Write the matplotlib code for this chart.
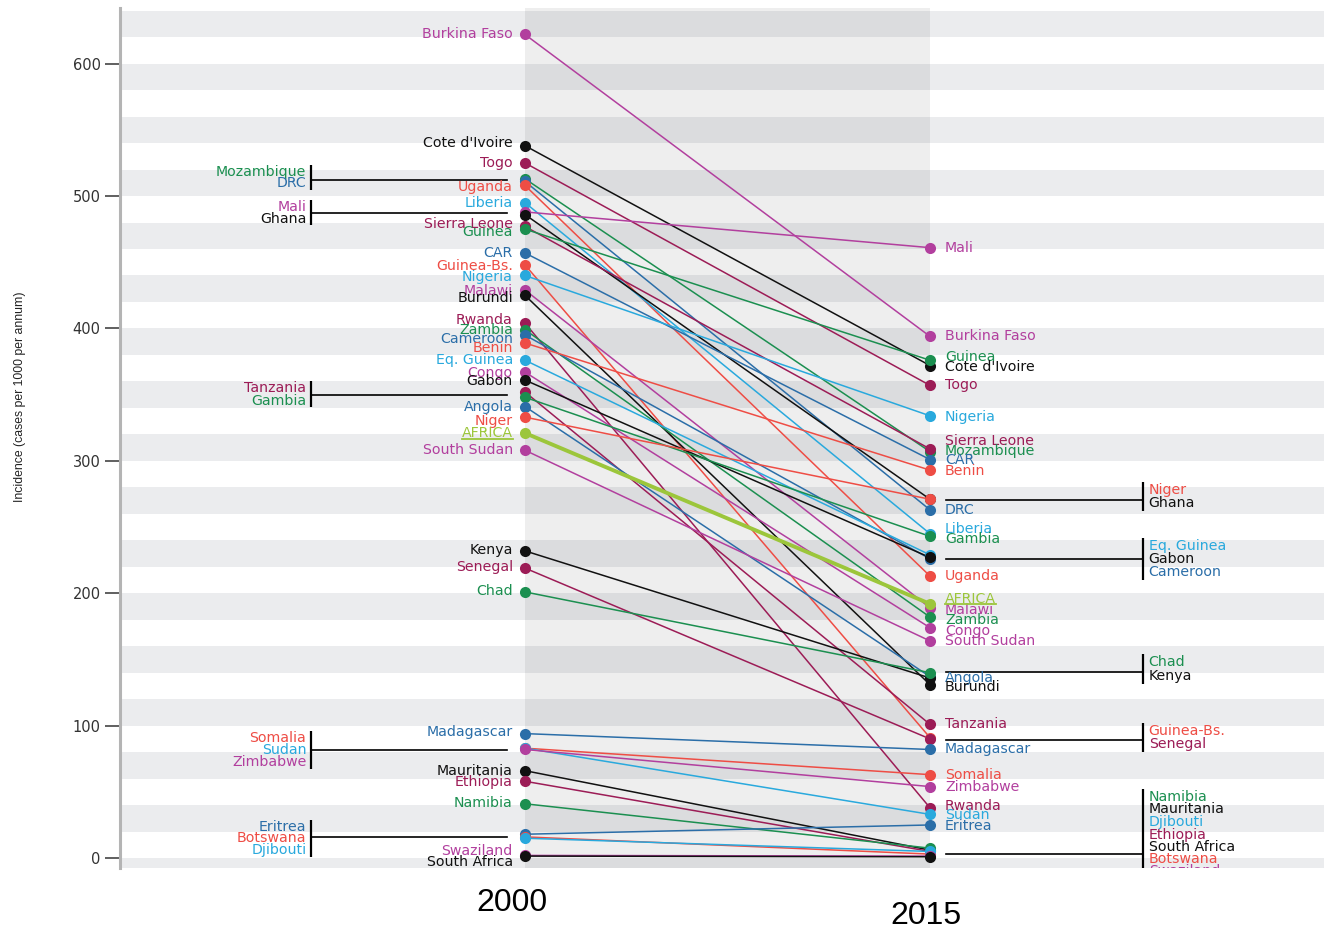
import matplotlib
matplotlib.use("Agg")
import matplotlib.pyplot as plt
from matplotlib.patches import Rectangle

# ---------------------------------------------------------------------------
# Malaria incidence (cases per 1000 per annum), 2000 vs 2015
# ---------------------------------------------------------------------------
countries = [
    "Burkina Faso", "Cote d'Ivoire", "Togo", "Mozambique", "DRC", "Uganda",
    "Liberia", "Mali", "Ghana", "Sierra Leone", "Guinea", "CAR", "Guinea-Bs.",
    "Nigeria", "Malawi", "Burundi", "Rwanda", "Zambia", "Cameroon", "Benin",
    "Eq. Guinea", "Congo", "Gabon", "Tanzania", "Gambia", "Angola", "Niger",
    "AFRICA", "South Sudan", "Kenya", "Senegal", "Chad", "Madagascar",
    "Somalia", "Sudan", "Zimbabwe", "Mauritania", "Ethiopia", "Namibia",
    "Eritrea", "Botswana", "Djibouti", "Swaziland", "South Africa",
]
incidence_2000 = [
    622, 538, 525, 513, 511, 508,
    495, 488, 486, 477, 475, 457, 448,
    440, 429, 425, 404, 399, 395, 389,
    376, 367, 361, 352, 348, 341, 333,
    321, 308, 232, 219, 201, 94,
    83, 83, 82, 66, 58, 41,
    18, 16, 15, 2, 1.5,
]
incidence_2015 = [
    394, 372, 357, 307, 263, 213,
    245, 461, 271, 309, 376, 301, 91,
    334, 189, 131, 38, 182, 226, 293,
    229, 174, 227, 101, 243, 137, 271,
    192, 164, 136, 90, 140, 82,
    63, 33, 54, 6, 5, 7.5,
    25, 3, 5, 1.5, 1,
]
colour_group = [
    "purple", "black", "crimson", "green", "blue", "red",
    "cyan", "purple", "black", "crimson", "green", "blue", "red",
    "cyan", "purple", "black", "crimson", "green", "blue", "red",
    "cyan", "purple", "black", "crimson", "green", "blue", "red",
    "lime", "purple", "black", "crimson", "green", "blue",
    "red", "cyan", "purple", "black", "crimson", "green",
    "blue", "red", "cyan", "purple", "black",
]
palette = {
    "purple": "#b23f9e", "black": "#111111", "crimson": "#9c1c56",
    "green": "#1b8f50", "blue": "#2b6ea8", "red": "#ee4d45",
    "cyan": "#29a9dd", "lime": "#9cc63b",
}
year_labels = ["2000", "2015"]
y_ticks = [0, 100, 200, 300, 400, 500, 600]

# ---------------------------------------------------------------------------
# Label layout (vertical positions of the stacked labels, in data units)
# ---------------------------------------------------------------------------
left_label_y = {
    "Burkina Faso": 622, "Cote d'Ivoire": 540, "Togo": 525, "Uganda": 507,
    "Liberia": 495, "Sierra Leone": 479, "Guinea": 472.5, "CAR": 457,
    "Guinea-Bs.": 447.5, "Nigeria": 439, "Malawi": 428.5, "Burundi": 423,
    "Rwanda": 406, "Zambia": 398.5, "Cameroon": 392, "Benin": 385.5,
    "Eq. Guinea": 376, "Congo": 366.5, "Gabon": 360, "Angola": 341,
    "Niger": 330, "AFRICA": 321, "South Sudan": 308, "Kenya": 233,
    "Senegal": 220, "Chad": 202, "Madagascar": 95, "Mauritania": 66,
    "Ethiopia": 57.5, "Namibia": 41.5, "Swaziland": 5, "South Africa": -3,
}
left_groups = [
    (["Mozambique", "DRC"], 512, [518.5, 509.5]),
    (["Mali", "Ghana"], 487, [492, 483]),
    (["Tanzania", "Gambia"], 350, [355, 345.5]),
    (["Somalia", "Sudan", "Zimbabwe"], 81.6, [90.7, 81.6, 72.6]),
    (["Eritrea", "Botswana", "Djibouti"], 16, [23.4, 15, 6]),
]
right_label_y = {
    "Mali": 461, "Burkina Faso": 394, "Guinea": 378.5, "Cote d'Ivoire": 371,
    "Togo": 357, "Nigeria": 333, "Sierra Leone": 315, "Mozambique": 307.5,
    "CAR": 300.5, "Benin": 292.5, "DRC": 263, "Liberia": 248.5,
    "Gambia": 241, "Uganda": 213, "AFRICA": 196, "Malawi": 187.5,
    "Zambia": 180, "Congo": 171.5, "South Sudan": 164, "Angola": 136,
    "Burundi": 129, "Tanzania": 101, "Madagascar": 82, "Somalia": 63,
    "Zimbabwe": 54, "Rwanda": 39, "Sudan": 32.5, "Eritrea": 24,
}
right_groups = [
    (["Niger", "Ghana"], 270.6, [278, 268]),
    (["Eq. Guinea", "Gabon", "Cameroon"], 226, [236, 226, 216]),
    (["Chad", "Kenya"], 140.6, [148, 137.6]),
    (["Guinea-Bs.", "Senegal"], 89, [96, 86]),
    (["Namibia", "Mauritania", "Djibouti", "Ethiopia", "South Africa",
      "Botswana", "Swaziland"], 3, [46, 37, 27, 17.4, 8.3, -0.8, -10]),
]

colour_of = {c: palette[g] for c, g in zip(countries, colour_group)}

# ---------------------------------------------------------------------------
# Figure
# ---------------------------------------------------------------------------
W, H = 1324, 933
fig = plt.figure(figsize=(W / 100, H / 100), dpi=100)
ax = fig.add_axes([120 / W, (H - 868) / H, (W - 120) / W, 860 / H])
ax.set_xlim(-1.0, 1.973)
ax.set_ylim(-7.5, 642)
ax.set_facecolor("white")

# horizontal stripes
for k in range(-1, 33, 2):
    ax.axhspan(20 * k, 20 * k + 20, color="#ebecee", lw=0, zorder=0)
# darker column between the two years
ax.add_patch(Rectangle((0, -50), 1, 800, facecolor="black", alpha=0.065,
                       lw=0, zorder=0.5))

# slope lines and dots
for name, a, b, g in zip(countries, incidence_2000, incidence_2015, colour_group):
    col = palette[g]
    is_avg = name == "AFRICA"
    ax.plot([0, 1], [a, b], color=col, lw=2.8 if is_avg else 1.1,
            zorder=3 if is_avg else 2, solid_capstyle="round")
for name, a, b, g in zip(countries, incidence_2000, incidence_2015, colour_group):
    ax.plot([0, 1], [a, b], ls="none", marker="o", ms=8, color=palette[g],
            markeredgewidth=0, zorder=4)

FS = 10.2
font = ["DejaVu Sans"]
XL, XR = -0.03, 1.037
XL_GROUP, XR_GROUP = -0.54, 1.54
BRACKET_L, BRACKET_R = -0.528, 1.526

text_objs = []
# left labels
for name, y in left_label_y.items():
    t = ax.text(XL, y, name, ha="right", va="center", fontsize=FS,
                family=font, color=colour_of[name], zorder=5, clip_on=True)
    text_objs.append(t)
for names, yline, ys in left_groups:
    for n, y in zip(names, ys):
        ax.text(XL_GROUP, y, n, ha="right", va="center", fontsize=FS,
                family=font, color=colour_of[n], zorder=5, clip_on=True)
    ax.plot([BRACKET_L, BRACKET_L], [max(ys) + 5, min(ys) - 5], color="black",
            lw=1.6, zorder=5, solid_capstyle="butt")
    ax.plot([BRACKET_L, -0.045], [yline, yline], color="black", lw=1.2, zorder=1.5)

# right labels
for name, y in right_label_y.items():
    t = ax.text(XR, y, name, ha="left", va="center", fontsize=FS,
                family=font, color=colour_of[name], zorder=5, clip_on=True)
    text_objs.append(t)
for names, yline, ys in right_groups:
    for n, y in zip(names, ys):
        ax.text(XR_GROUP, y, n, ha="left", va="center", fontsize=FS,
                family=font, color=colour_of[n], zorder=5, clip_on=True)
    ax.plot([BRACKET_R, BRACKET_R], [max(ys) + 6, min(ys) - 6], color="black",
            lw=1.6, zorder=5, solid_capstyle="butt", clip_on=True)
    ax.plot([1.04, BRACKET_R], [yline, yline], color="black", lw=1.2, zorder=1.5)

# axes styling
for s in ["top", "right", "bottom"]:
    ax.spines[s].set_visible(False)
ax.spines["left"].set_color("#b4b4b4")
ax.spines["left"].set_linewidth(2.2)
ax.set_xticks([])
ax.set_yticks(y_ticks)
ax.tick_params(axis="y", direction="out", length=11, width=1.2,
               color="#444444", labelcolor="#333333", labelsize=10.5, pad=3)
for lab in ax.get_yticklabels():
    lab.set_family("DejaVu Sans")

fig.text(20 / W, 1 - 397 / H, "Incidence (cases per 1000 per annum)",
         rotation=90, ha="center", va="center", fontsize=8.8,
         family=["Liberation Sans Narrow", "Liberation Sans"], color="#222222")

fig.text(512 / W, 1 - 903 / H, year_labels[0], ha="center", va="center",
         fontsize=23, family=["Liberation Sans"], color="black")
fig.text(926 / W, 1 - 916 / H, year_labels[1], ha="center", va="center",
         fontsize=23, family=["Liberation Sans"], color="black")

# underline the continental average labels
fig.canvas.draw()
renderer = fig.canvas.get_renderer()
inv = ax.transData.inverted()
for t in text_objs:
    if t.get_text() == "AFRICA":
        bb = t.get_window_extent(renderer)
        (x0, y0), (x1, _) = inv.transform([(bb.x0, bb.y0 + 1.5), (bb.x1, bb.y0 + 1.5)])
        ax.plot([x0, x1], [y0, y0], color=palette["lime"], lw=1.3, zorder=5)

fig.savefig("out.png", dpi=100)
